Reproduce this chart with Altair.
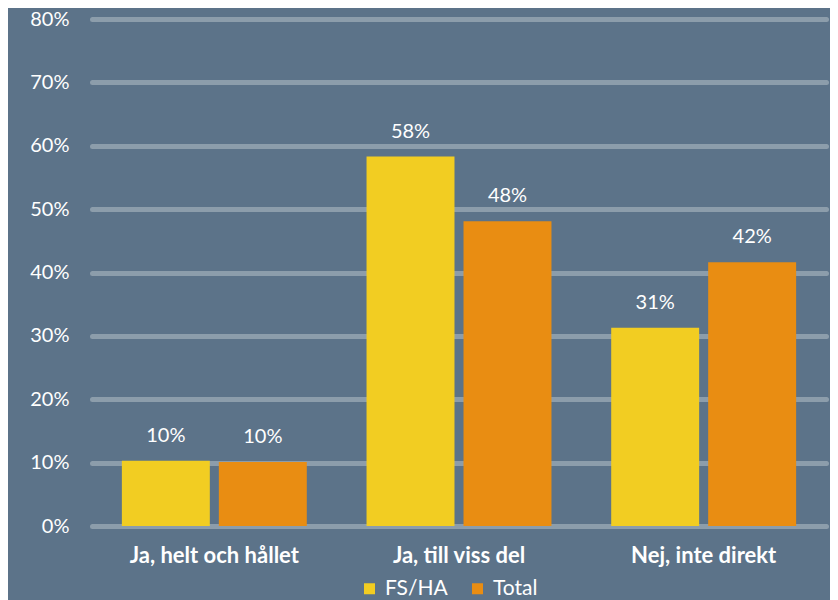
import altair as alt
import pandas as pd

categories = ["Ja, helt och hållet", "Ja, till viss del", "Nej, inte direkt"]
series = ["FS/HA", "Total"]
fsha = [0.103, 0.583, 0.313]
total = [0.101, 0.481, 0.416]

rows = []
for c, a, b in zip(categories, fsha, total):
    rows.append({"kategori": c, "serie": series[0], "v": a})
    rows.append({"kategori": c, "serie": series[1], "v": b})
df = pd.DataFrame(rows)

BG = "#5C7389"
FONT = "Lato"

x = alt.X("kategori:N", sort=categories, title=None,
          scale=alt.Scale(paddingInner=0, paddingOuter=0),
          axis=alt.Axis(labelAngle=0, labelFontWeight="bold", labelFontSize=22,
                        labelColor="white", labelFont=FONT, labelPadding=19,
                        domain=False, ticks=False, grid=False))
xo = alt.XOffset("serie:N", sort=series,
                 scale=alt.Scale(paddingInner=0.093, paddingOuter=0.308))
y = alt.Y("v:Q", title=None,
          scale=alt.Scale(domain=[0, 0.8], nice=False),
          axis=alt.Axis(format=".0%", values=[0, .1, .2, .3, .4, .5, .6, .7, .8],
                        labelFontSize=20, labelColor="white", labelFont=FONT,
                        labelPadding=23, domain=False, ticks=False,
                        grid=True, gridColor="#8C9DAB", gridWidth=5, gridCap="round"))
color = alt.Color("serie:N", sort=series,
                  scale=alt.Scale(domain=series, range=["#F2CD22", "#E98D12"]),
                  legend=alt.Legend(orient="none", legendX=267, legendY=559,
                                    direction="horizontal", title=None,
                                    symbolType="square", symbolSize=121,
                                    symbolStrokeWidth=0, labelFontSize=21,
                                    labelColor="white", labelFont=FONT,
                                    columnPadding=19, labelOffset=5, padding=0))

base = alt.Chart(df).encode(x=x, xOffset=xo, y=y)
bars = base.mark_bar().encode(color=color)
labels = base.mark_text(baseline="bottom", dy=-15, fontSize=20, color="white",
                        font=FONT).encode(text=alt.Text("v:Q", format=".0%"))

chart = (bars + labels).properties(
    width=734, height=507,
    background=BG,
    autosize=alt.AutoSizeParams(type="none"),
    padding={"left": 84, "top": 11, "right": 4, "bottom": 74},
).configure_view(stroke=None)

chart.save("out.html", embed_options={"renderer": "svg", "actions": False})
